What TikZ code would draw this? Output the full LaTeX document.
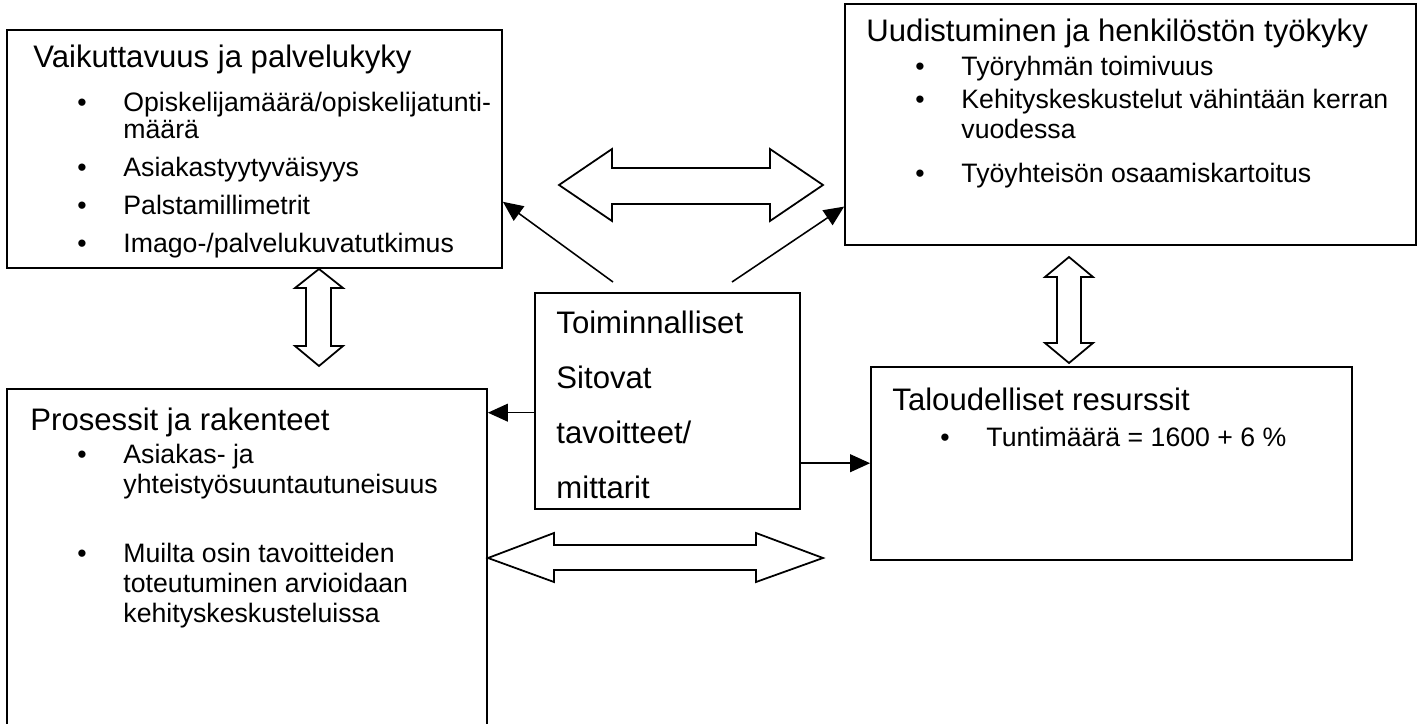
\documentclass[tikz,border=0pt]{standalone}
\usepackage{fontspec}
\setmainfont{Liberation Sans}
\usetikzlibrary{arrows.meta, fit}

\newcommand{\bul}{\makebox[20.7pt][l]{\textbullet}}
\newcommand{\ind}{\hspace*{20.7pt}}

\tikzset{
  box/.style={draw, line width=0.8pt, inner sep=0pt},
  title/.style={anchor=base west, inner sep=0pt, font=\fontsize{14}{16}\selectfont},
  % base west of a multi-line entry = baseline of its last line
  entry/.style={anchor=base west, inner sep=0pt, align=left, font=\fontsize{12}{13.8}\selectfont},
  link/.style={-{Triangle[length=9pt, width=8pt]}, line width=0.7pt},
  hollow/.style={draw, line width=0.8pt, fill=white}
}

\begin{document}
\begin{tikzpicture}[x=0.45pt, y=-0.45pt]
    \clip (0,0) rectangle (1426,724);

    % the five boxes
    \node (va) [box, fit={(7,30) (502,268)}] {};
    \node (ud) [box, fit={(845,4) (1416,245)}] {};
    \node (toim) [box, fit={(535,293) (800,509)}] {};
    \node (pr) [box, fit={(7,389) (487,740)}] {};
    \node (tr) [box, fit={(871,367) (1352,560)}] {};

    % Vaikuttavuus ja palvelukyky
    \node (va-t) [title] at (33,68) {Vaikuttavuus ja palvelukyky};
    \node (va-1) [entry, font=\fontsize{12}{12.3}\selectfont] at (77,139) {\bul Opiskelijamäärä/opiskelijatunti-\\\ind määrä};
    \node (va-2) [entry] at (77,177) {\bul Asiakastyytyväisyys};
    \node (va-3) [entry] at (77,215) {\bul Palstamillimetrit};
    \node (va-4) [entry] at (77,253) {\bul Imago-/palvelukuvatutkimus};

    % Uudistuminen
    \node (ud-t) [title] at (866,42) {Uudistuminen ja henkilöstön työkyky};
    \node (ud-1) [entry] at (915,76) {\bul Työryhmän toimivuus};
    \node (ud-2) [entry] at (915,139) {\bul Kehityskeskustelut vähintään kerran\\\ind vuodessa};
    \node (ud-3) [entry] at (915,182) {\bul Työyhteisön osaamiskartoitus};

    % keskellä
    \node (toim-t) [entry, font=\fontsize{14}{24.75}\selectfont] at (556,498) {Toiminnalliset\\Sitovat\\tavoitteet/\\mittarit};

    % Prosessit ja rakenteet
    \node (pr-t) [title] at (30,430) {Prosessit ja rakenteet};
    \node (pr-1) [entry, font=\fontsize{12}{13.5}\selectfont] at (77,493) {\bul Asiakas- ja\\\ind yhteistyösuuntautuneisuus};
    \node (pr-2) [entry, font=\fontsize{12}{13.5}\selectfont] at (77,622) {\bul Muilta osin tavoitteiden\\\ind toteutuminen arvioidaan\\\ind kehityskeskusteluissa};

    % Taloudelliset resurssit
    \node (tr-t) [title] at (892,410) {Taloudelliset resurssit};
    \node (tr-1) [entry] at (940,446) {\bul Tuntimäärä = 1600 + 6 \%};

    % ohuet nuolet
    \coordinate (to-va) at (613,282);
    \coordinate (to-ud) at (732,282);
    \draw[link] (to-va) -- (va.-12.7);
    \draw[link] (to-ud) -- (ud.196.9);
    \draw[link] (toim.185.2) -- (toim.185.2 -| pr.east);
    \draw[link] (toim.-25.4) -- (toim.-25.4 -| tr.west);

    % ontot kaksoisnuolet
    \draw[hollow] (559,185) -- (612,149) -- (612,168) -- (770,168) -- (770,149) -- (823,185)
        -- (770,221) -- (770,204) -- (612,204) -- (612,221) -- cycle;
    \draw[hollow] (488,558) -- (554,533) -- (554,545) -- (756,545) -- (756,533) -- (823,558)
        -- (756,582) -- (756,570) -- (554,570) -- (554,582) -- cycle;
    \draw[hollow] (319,269) -- (343,288) -- (331,288) -- (331,346) -- (343,346) -- (319,366)
        -- (295,346) -- (306,346) -- (306,288) -- (295,288) -- cycle;
    \draw[hollow] (1069,257) -- (1093,277) -- (1081,277) -- (1081,343) -- (1093,343) -- (1069,363)
        -- (1045,343) -- (1057,343) -- (1057,277) -- (1045,277) -- cycle;
\end{tikzpicture}
\end{document}
